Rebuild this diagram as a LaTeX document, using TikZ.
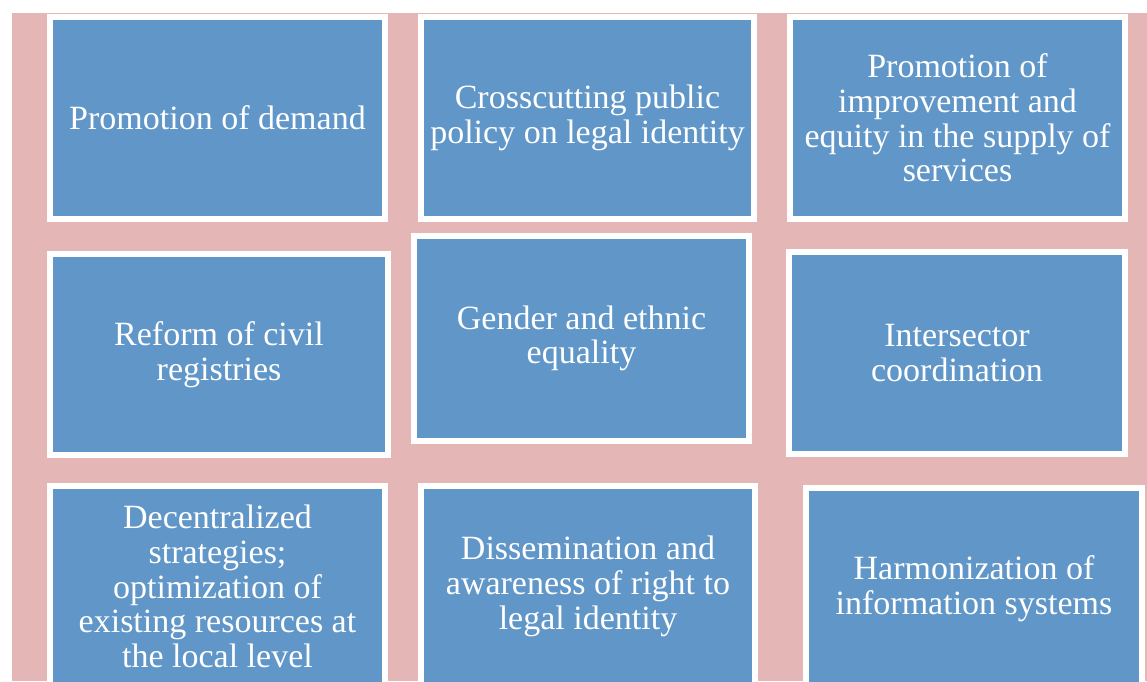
\documentclass[tikz,border=0pt]{standalone}
\usepackage{fontspec}
\setmainfont{Liberation Serif}
\definecolor{rose}{RGB}{228,182,182}
\definecolor{tile}{RGB}{96,150,200}
\begin{document}
\begin{tikzpicture}
[x=1pt,y=-1pt, b/.style={rectangle,fill=tile,draw=white,line width=6pt,text=white,align=center,inner sep=0pt,font=\fontsize{34}{34.7}\selectfont}]
\useasboundingbox (0,0) rectangle (1147,681);\clip (0,0) rectangle (1147,681);
\fill[white] (0,0) rectangle (1147,681);\fill[rose] (12,13) rectangle (1147,681);
\node(dem) at (217.5,118)[b,minimum width=335pt,minimum height=202pt]{Promotion of demand};
\node(pol) at (587.5,118)[b,minimum width=333pt,minimum height=202pt]{Crosscutting public\\policy on legal identity};
\node(sup) at (957.5,118)[b,minimum width=335pt,minimum height=202pt]{Promotion of\\improvement and\\equity in the supply of\\services};
\node(reg) at (219,354.5)[b,minimum width=338pt,minimum height=201pt]{Reform of civil\\registries};
\node(gen) at (581.5,338.5)[b,minimum width=335pt,minimum height=205pt]{Gender and ethnic\\equality};
\node(coo) at (957,353)[b,minimum width=336pt,minimum height=202pt]{Intersector\\coordination};
\node(dec) at (217.5,586.5)[b,minimum width=335pt,minimum height=201pt]{Decentralized\\strategies;\\optimization of\\existing resources at\\the local level};
\node(dis) at (588,586.5)[b,minimum width=334pt,minimum height=201pt]{Dissemination and\\awareness of right to\\legal identity};
\node(har) at (974,588.5)[b,minimum width=336pt,minimum height=201pt]{Harmonization of\\information systems};
\end{tikzpicture}
\end{document}
